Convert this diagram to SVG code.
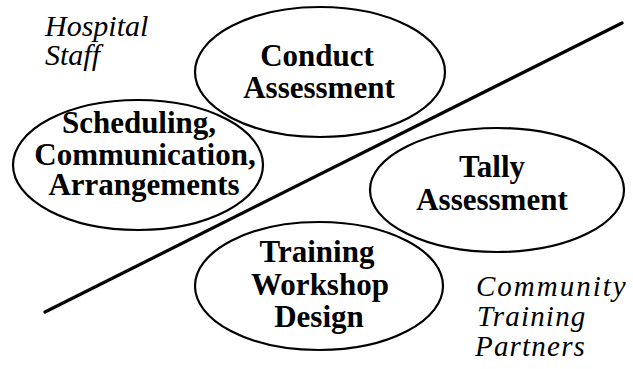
<svg xmlns="http://www.w3.org/2000/svg" width="633" height="369" viewBox="0 0 633 369">
<style>
.shape{fill:none;stroke:#000;stroke-width:2.2}
.conn{stroke:#000;stroke-width:3.2;stroke-linecap:round}
</style>
<rect width="633" height="369" fill="#fff"/>
<g id="connectors">
<line class="conn" x1="45" y1="312" x2="622" y2="23"/>
</g>
<g id="label-hospital">
<text x="45" y="36" font-family="Liberation Serif, Times New Roman, serif" font-style="italic" font-size="30">Hospital</text>
<text x="45" y="65" font-family="Liberation Serif, Times New Roman, serif" font-style="italic" font-size="30">Staff</text>
</g>
<g id="label-community">
<text x="476" y="296" font-family="Liberation Serif, Times New Roman, serif" font-style="italic" font-size="29" letter-spacing="2">Community</text>
<text x="477" y="326" font-family="Liberation Serif, Times New Roman, serif" font-style="italic" font-size="29" letter-spacing="1.2">Training</text>
<text x="475" y="356" font-family="Liberation Serif, Times New Roman, serif" font-style="italic" font-size="29" letter-spacing="1.2">Partners</text>
</g>
<g id="node-conduct">
<ellipse class="shape" cx="320" cy="72" rx="125" ry="65"/>
<text x="317" y="66" text-anchor="middle" font-family="Liberation Serif, Times New Roman, serif" font-weight="bold" font-size="31">Conduct</text>
<text x="319" y="98" text-anchor="middle" font-family="Liberation Serif, Times New Roman, serif" font-weight="bold" font-size="31">Assessment</text>
</g>
<g id="node-scheduling">
<ellipse class="shape" cx="138" cy="165" rx="125" ry="65"/>
<text x="139" y="133" text-anchor="middle" font-family="Liberation Serif, Times New Roman, serif" font-weight="bold" font-size="31">Scheduling,</text>
<text x="145" y="165" text-anchor="middle" font-family="Liberation Serif, Times New Roman, serif" font-weight="bold" font-size="31">Communication,</text>
<text x="144" y="195" text-anchor="middle" font-family="Liberation Serif, Times New Roman, serif" font-weight="bold" font-size="31">Arrangements</text>
</g>
<g id="node-tally">
<ellipse class="shape" cx="497" cy="190" rx="127" ry="62"/>
<text x="492" y="177" text-anchor="middle" font-family="Liberation Serif, Times New Roman, serif" font-weight="bold" font-size="31">Tally</text>
<text x="492" y="210" text-anchor="middle" font-family="Liberation Serif, Times New Roman, serif" font-weight="bold" font-size="31">Assessment</text>
</g>
<g id="node-training">
<ellipse class="shape" cx="319" cy="286" rx="124" ry="64"/>
<text x="317" y="262" text-anchor="middle" font-family="Liberation Serif, Times New Roman, serif" font-weight="bold" font-size="31">Training</text>
<text x="320" y="295" text-anchor="middle" font-family="Liberation Serif, Times New Roman, serif" font-weight="bold" font-size="31">Workshop</text>
<text x="319" y="327" text-anchor="middle" font-family="Liberation Serif, Times New Roman, serif" font-weight="bold" font-size="31">Design</text>
</g>
</svg>
